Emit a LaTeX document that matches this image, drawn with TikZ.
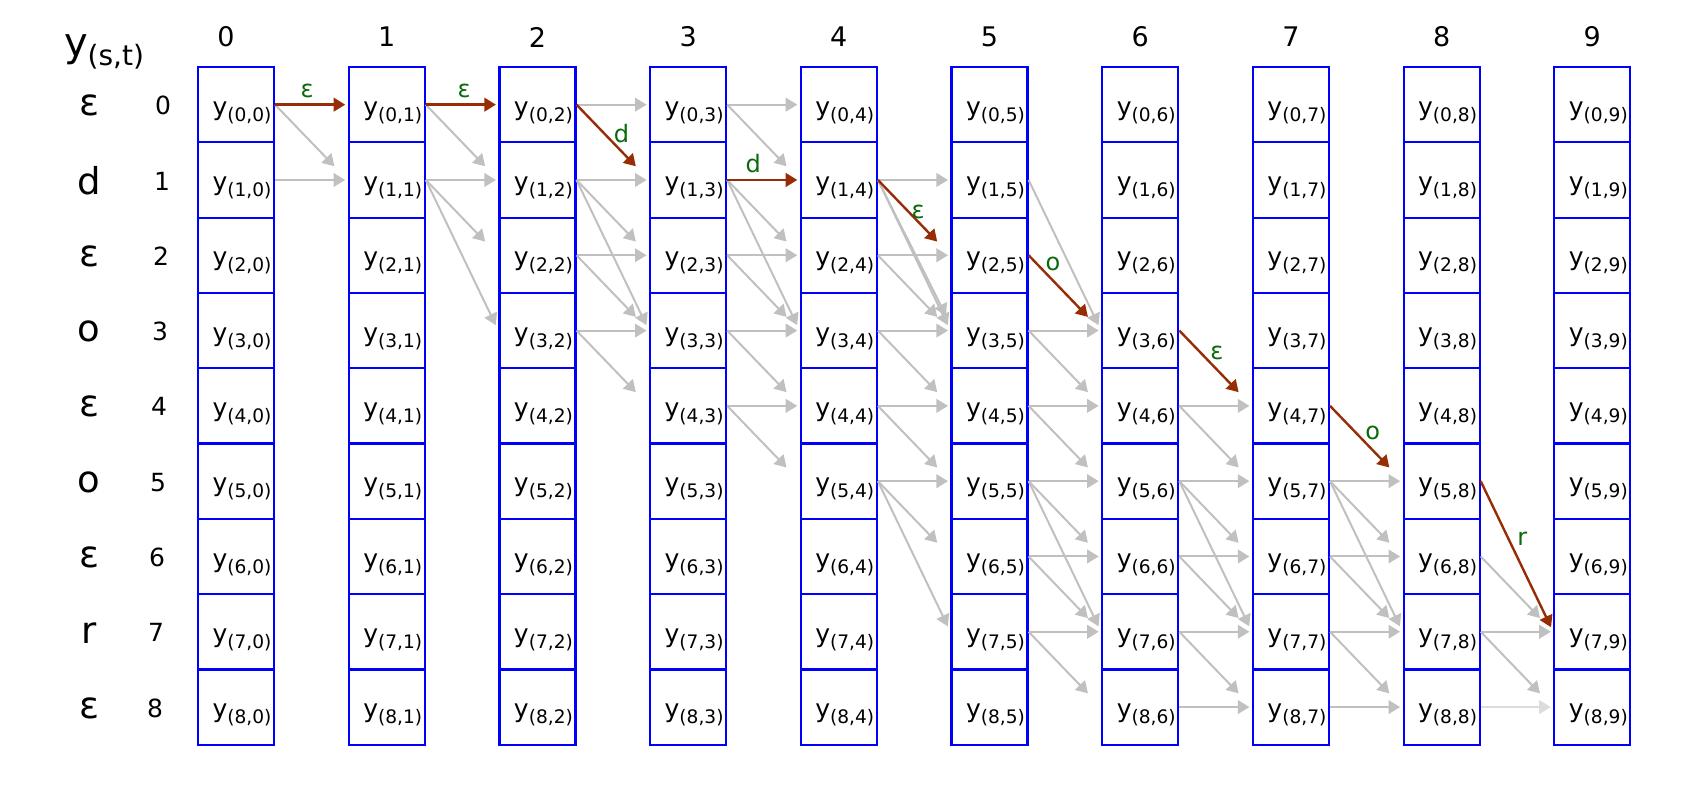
\documentclass[tikz,border=0pt]{standalone}
\usepackage{fontspec}
\setmainfont{DejaVu Sans}
\usepackage{tikz}
\usetikzlibrary{arrows.meta}
\definecolor{boxblue}{RGB}{0,0,255}
\definecolor{pathred}{RGB}{150,45,5}
\definecolor{lblgreen}{RGB}{10,105,10}
\definecolor{edgegray}{RGB}{192,192,192}
\definecolor{edgelight}{RGB}{220,220,220}

% cell text y_(s,t)
\newcommand{\yst}[2]{\fontsize{12.5}{14}\selectfont y\raisebox{-3pt}{\fontsize{9.3}{10}\selectfont(#1,#2)}}

\begin{document}
\begin{tikzpicture}[x=0.5pt,y=-0.5pt,
	cell/.style={draw=boxblue,line width=1.1pt,minimum width=38pt,minimum height=37.65pt,inner sep=0pt},
	celltext/.style={inner sep=0pt,xshift=3pt,yshift=-4pt},
	gray/.style={draw=edgegray,line width=1pt,-{Triangle[length=5.8pt,width=6.8pt]}},
	hor/.style={gray,shorten >=1.2pt},
	dia/.style={gray,shorten >=9.5pt},
	skp/.style={gray,shorten >=3pt},
	redpath/.style={draw=pathred,line width=1.2pt,-{Triangle[length=5.8pt,width=6.8pt]}},
	lbl/.style={text=lblgreen,font=\fontsize{12}{14}\selectfont,inner sep=1pt},
	colnum/.style={font=\fontsize{13.5}{15}\selectfont},
	rownum/.style={font=\fontsize{12.5}{14}\selectfont},
	sym/.style={font=\fontsize{18.5}{20}\selectfont}]
	
	\useasboundingbox (0,0) rectangle (1707,799);
	
	\node (head) at (104,52) {\fontsize{20}{22}\selectfont y\raisebox{-4.5pt}{\fontsize{14}{16}\selectfont(s,t)}};
	
	% lattice of cells
	\foreach \col in {0,...,9}{
		\node[colnum] (n\col) at ({236+150.7*\col-(\col==0)*10},37) {\col};
		\foreach \row in {0,...,8}
			\node[cell,label={[celltext]center:\yst{\row}{\col}}] (c\row-\col) at ({236+150.7*\col},{104.65+75.3*\row}) {};
	}
	
	% extended label sequence
	\foreach \row/\ch in {0/ε,1/d,2/ε,3/o,4/ε,5/o,6/ε,7/r,8/ε}{
		\node[sym] (l\row) at (89,{105.65+75.3*\row}) {\ch};
		\node[rownum] (r\row) at ({163-\row},{105.65+75.3*\row}) {\row};
	}
	
	% stay on the same s
	\foreach \row/\col in {1/0,1/1,0/2,1/2,2/2,3/2,0/3,2/3,3/3,4/3,1/4,2/4,3/4,4/4,5/4,3/5,4/5,5/5,6/5,7/5,4/6,5/6,6/6,7/6,8/6,5/7,6/7,7/7,8/7,7/8}{
		\pgfmathtruncatemacro{\nxt}{\col+1}
		\draw[hor] (c\row-\col.east) -- (c\row-\nxt.west);
	}
	\draw[hor,draw=edgelight] (c8-8.east) -- (c8-9.west);
	
	% one step down
	\foreach \row/\col in {0/0,0/1,1/1,1/2,2/2,3/2,0/3,1/3,2/3,3/3,4/3,2/4,3/4,4/4,5/4,3/5,4/5,5/5,6/5,7/5,4/6,5/6,6/6,7/6,5/7,6/7,7/7,6/8,7/8}{
		\pgfmathtruncatemacro{\nxt}{\col+1}
		\pgfmathtruncatemacro{\dwn}{\row+1}
		\draw[dia] (c\row-\col.east) -- (c\dwn-\nxt.west);
	}
	
	% skip the blank
	\foreach \row/\col in {1/1,1/2,1/3,1/4,5/4,1/5,5/5,5/6,5/7}{
		\pgfmathtruncatemacro{\nxt}{\col+1}
		\pgfmathtruncatemacro{\dwn}{\row+2}
		\draw[skp] (c\row-\col.east) -- (c\dwn-\nxt.west);
	}
	\draw[skp,shorten >=5pt] (c1-4.east) -- ([yshift=3pt]c3-5.west);
	
	% best path
	\draw[redpath,shorten >=1.2pt] (c0-0.east) -- (c0-1.west) node[lbl,pos=.44,above=2pt]{ε};
	\draw[redpath,shorten >=1.2pt] (c0-1.east) -- (c0-2.west) node[lbl,pos=.53,above=2pt]{ε};
	\draw[redpath,shorten >=9.5pt] (c0-2.east) -- (c1-3.west) node[lbl,pos=.39,right=3pt]{d};
	\draw[redpath,shorten >=1.2pt] (c1-3.east) -- (c1-4.west) node[lbl,pos=.36,above=2pt]{d};
	\draw[redpath,shorten >=9.5pt] (c1-4.east) -- (c2-5.west) node[lbl,pos=.42,right=0pt]{ε};
	\draw[redpath,shorten >=9.5pt] (c2-5.east) -- (c3-6.west) node[lbl,pos=.12,right=2.5pt]{o};
	\draw[redpath,shorten >=9.5pt] (c3-6.east) -- (c4-7.west) node[lbl,pos=.3,right=3pt]{ε};
	\draw[redpath,shorten >=9.5pt] (c4-7.east) -- (c5-8.west) node[lbl,pos=.36,right=3pt]{o};
	\draw[redpath,shorten >=2.5pt] (c5-8.east) -- (c7-9.west) node[lbl,pos=.38,right=3pt]{r};
	
\end{tikzpicture}
\end{document}
